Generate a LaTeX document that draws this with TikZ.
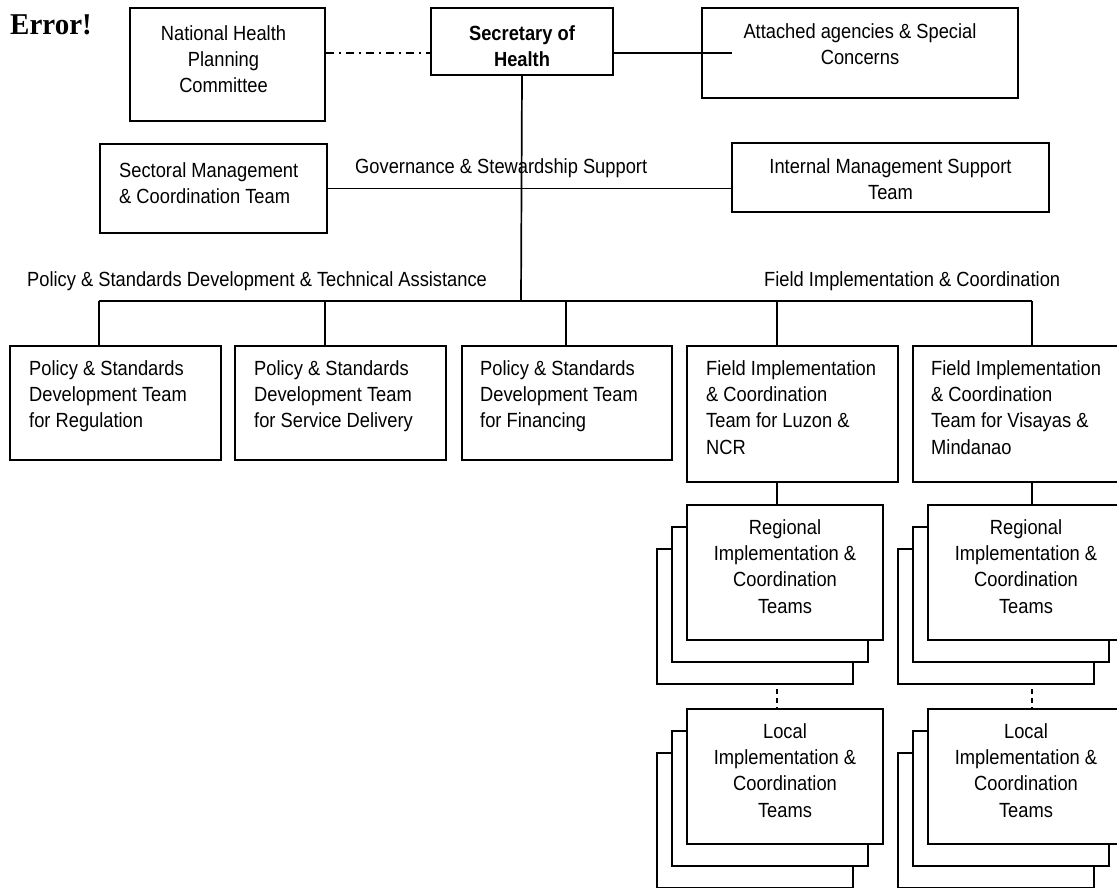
\documentclass[tikz,border=0pt]{standalone}
\usepackage{fontspec}
\setmainfont{Liberation Sans}
\newfontfamily\errfont{Liberation Serif}
\usetikzlibrary{calc}

\begin{document}
\begin{tikzpicture}[
  x=1pt, y=-1pt,
  font=\fontsize{18.3}{23.5}\selectfont,
  box/.style={draw, line width=2pt, fill=white, anchor=north west, inner sep=0pt},
  stackbox/.style={box, minimum width=196pt, minimum height=135pt},
  txt/.style={inner sep=0pt, align=center, anchor=north, yscale=1.12, transform shape},
  ltxt/.style={txt, align=left, anchor=north west},
  lbl/.style={inner sep=0pt, anchor=base west, yscale=1.12, transform shape},
  link/.style={line width=1.7pt},
  dashdot/.style={link, dash pattern=on 8pt off 5pt on 2pt off 5pt},
  dlink/.style={link, dash pattern=on 5pt off 4pt, dash phase=5pt}
]
\newcommand{\teamstack}[4]{% 
  \node[stackbox] (#1c) at (#2-30,#3+44) {};
  \node[stackbox] (#1b) at (#2-15,#3+22) {};
  \node[stackbox] (#1) at (#2,#3) {};
  \node[txt] (#1t) at ($(#1.north)+(0,15)$) {#4};}

\useasboundingbox (0,0) rectangle (1117,888);
\clip (0,0) rectangle (1117,888);

% top row
\node[lbl, yscale=0.93, font=\errfont\bfseries\fontsize{29}{30}\selectfont] (err) at (10,35) {Error!};
\node[box, minimum width=195pt, minimum height=113pt] (nhpc) at (129,7) {};
\node[txt] (nhpct) at ($(nhpc.north)+(-4,18)$) {National Health\\Planning\\Committee};
\node[box, minimum width=182pt, minimum height=67pt] (sec) at (430,7) {};
\node[txt, font=\fontsize{18.3}{23.5}\selectfont\bfseries] (sect) at ($(sec.north)+(0,18)$) {Secretary of\\Health};
\node[box, minimum width=316pt, minimum height=90pt] (att) at (701,7) {};
\node[txt] (attt) at ($(att.north)+(0,16)$) {Attached agencies \& Special\\Concerns};
\draw[dashdot] (nhpc.east |- att.west) -- (sec.west |- att.west);
\draw[link] (sec.east |- att.west) -- ($(att.west)+(31,0)$);

% governance & stewardship support
\node[box, minimum width=227pt, minimum height=89pt] (smct) at (99,143) {};
\node[ltxt] (smctt) at ($(smct.north west)+(20,19)$) {Sectoral Management\\\& Coordination Team};
\node[box, minimum width=317pt, minimum height=69pt] (imst) at (731,142) {};
\node[txt] (imstt) at ($(imst.north)+(0,16)$) {Internal Management Support\\Team};
\node[lbl] (gov) at (355,174) {Governance \& Stewardship Support};
\draw[link] (smct.east) -- (smct.east -| imst.west);

% bus to the teams
\node[lbl] (pol) at (27,286) {Policy \& Standards Development \& Technical Assistance};
\node[lbl] (fld) at (764,286) {Field Implementation \& Coordination};
\coordinate (bus) at (521,301);
\coordinate (d1) at (99,301);
\coordinate (d2) at (325,301);
\coordinate (d3) at (566,301);
\coordinate (d4) at (777,301);
\coordinate (d5) at (1032,301);
\draw[link] (sec.south) -- (bus);
\draw[link] (d1) -- (d5);

% team row
\node[box, minimum width=211pt, minimum height=114pt] (pst1) at (9,345) {};
\node[ltxt] (pst1t) at ($(pst1.north west)+(20,15)$) {Policy \& Standards\\Development Team\\for Regulation};
\node[box, minimum width=211pt, minimum height=114pt] (pst2) at (234,345) {};
\node[ltxt] (pst2t) at ($(pst2.north west)+(20,15)$) {Policy \& Standards\\Development Team\\for Service Delivery};
\node[box, minimum width=210pt, minimum height=114pt] (pst3) at (461,345) {};
\node[ltxt] (pst3t) at ($(pst3.north west)+(19,15)$) {Policy \& Standards\\Development Team\\for Financing};
\node[box, minimum width=211pt, minimum height=136pt] (fic1) at (686,345) {};
\node[ltxt] (fic1t) at ($(fic1.north west)+(20,15)$) {Field Implementation\\\& Coordination\\Team for Luzon \&\\NCR};
\node[box, minimum width=211pt, minimum height=136pt] (fic2) at (912,345) {};
\node[ltxt] (fic2t) at ($(fic2.north west)+(19,15)$) {Field Implementation\\\& Coordination\\Team for Visayas \&\\Mindanao};
\foreach \i/\t in {1/pst1, 2/pst2, 3/pst3, 4/fic1, 5/fic2}
  \draw[link] (d\i) -- (d\i |- \t.north);

% regional and local stacks
\teamstack{rg1}{686}{504}{Regional\\Implementation \&\\Coordination\\Teams}
\teamstack{rg2}{927}{504}{Regional\\Implementation \&\\Coordination\\Teams}
\teamstack{lc1}{686}{708}{Local\\Implementation \&\\Coordination\\Teams}
\teamstack{lc2}{927}{708}{Local\\Implementation \&\\Coordination\\Teams}
\draw[link] (d4 |- fic1.south) -- (d4 |- rg1.north);
\draw[link] (d5 |- fic2.south) -- (d5 |- rg2.north);
\draw[dlink] (d4 |- rg1c.south) -- (d4 |- lc1.north);
\draw[dlink] (d5 |- rg2c.south) -- (d5 |- lc2.north);

\end{tikzpicture}
\end{document}
